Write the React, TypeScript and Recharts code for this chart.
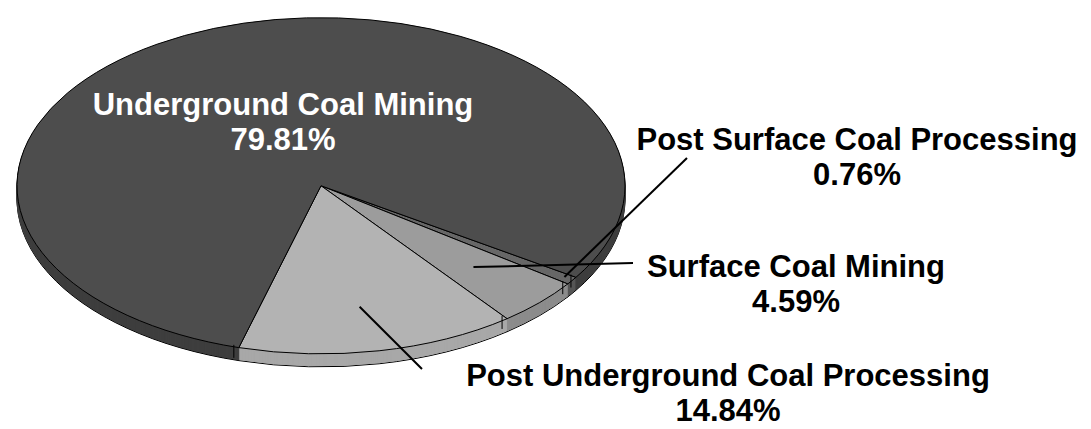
import { PieChart, Pie, Cell } from "recharts";

// share of emissions by source, in percent
const sources = [
  "Post Surface Coal Processing",
  "Surface Coal Mining",
  "Post Underground Coal Processing",
  "Underground Coal Mining",
];
const shares = [0.76, 4.59, 14.84, 79.81];

const topColors = ["#676767", "#9c9c9c", "#b3b3b3", "#4d4d4d"];
const sideColors = ["#565656", "#8c8c8c", "#a8a8a8", "#3e3e3e"];

// label layout: text centre, first baseline, leader end (null = inside slice)
const labelLayout = [
  { x: 857, y: 150, lineTo: [687, 158], from: 0.99, color: "#000" },
  { x: 796, y: 277, lineTo: [633, 263], from: 0.72, color: "#000" },
  { x: 728, y: 386, lineTo: [422, 369], from: 0.75, color: "#000" },
  { x: 283, y: 115, lineTo: null, from: 0, color: "#fff" },
];

const W = 1091;
const H = 429;
const CX = 316;
const CY = 183;
const R = 304;
const TILT = 0.553; // vertical squash of the disc
const DEPTH = 13; // thickness of the disc in px
const START = -33;

const data = sources.map((name, i) => ({ name, value: shares[i] }));
const RAD = Math.PI / 180;

const rim = (angle: number, f = 1) => [
  CX + R * f * Math.cos(-angle * RAD),
  CY + TILT * R * f * Math.sin(-angle * RAD),
];

function renderLabel(props: any) {
  const { index, midAngle, startAngle } = props;
  const lay = labelLayout[index];
  const parts: any[] = [];

  // vertical edge where slices meet on the front of the disc
  if (Math.sin(-startAngle * RAD) > 0) {
    const [ex, ey] = rim(startAngle);
    parts.push(<line key="edge" x1={ex} y1={ey} x2={ex} y2={ey + DEPTH} stroke="#000" strokeWidth={1} />);
  }

  if (lay.lineTo) {
    const [sx, sy] = rim(midAngle, lay.from);
    parts.push(
      <line key="lead" x1={sx} y1={sy} x2={lay.lineTo[0]} y2={lay.lineTo[1]} stroke="#000" strokeWidth={2} />
    );
  }

  parts.push(
    <text
      key="txt"
      x={lay.x}
      y={lay.y}
      textAnchor="middle"
      fill={lay.color}
      fontFamily="'Liberation Sans', Arial, sans-serif"
      fontWeight="bold"
      fontSize={31}
    >
      <tspan x={lay.x}>{sources[index]}</tspan>
      <tspan x={lay.x} dy={35}>{shares[index].toFixed(2)}%</tspan>
    </text>
  );
  return <g key={"lbl" + index}>{parts}</g>;
}

export default function App() {
  // layers stacked from the bottom of the disc up to just under the top face
  const layers = Array.from({ length: DEPTH }, (_, i) => DEPTH - i);

  return (
    <div className="coal-pie" style={{ width: W, height: H, background: "#fff" }}>
      <style>{`
        body { margin: 0; }
        .coal-pie path.recharts-sector {
          transform: scaleY(${TILT});
          transform-origin: 0px ${CY}px;
          vector-effect: non-scaling-stroke;
        }
      `}</style>
      <PieChart width={W} height={H}>
        {layers.map((d) => (
          <Pie
            key={"side" + d}
            data={data}
            dataKey="value"
            cx={CX}
            cy={CY + d / TILT}
            outerRadius={R}
            startAngle={START}
            endAngle={START - 360}
            isAnimationActive={false}
            label={false}
            labelLine={false}
            stroke={d === DEPTH ? "#000" : "none"}
            strokeWidth={1}
          >
            {data.map((_, i) => (
              <Cell key={i} fill={sideColors[i]} stroke={d === DEPTH ? "#000" : sideColors[i]} />
            ))}
          </Pie>
        ))}
        <Pie
          data={data}
          dataKey="value"
          cx={CX}
          cy={CY}
          outerRadius={R}
          startAngle={START}
          endAngle={START - 360}
          isAnimationActive={false}
          labelLine={false}
          label={renderLabel}
          stroke="#000"
          strokeWidth={1}
        >
          {data.map((_, i) => (
            <Cell key={i} fill={topColors[i]} stroke="#000" />
          ))}
        </Pie>
      </PieChart>
    </div>
  );
}
